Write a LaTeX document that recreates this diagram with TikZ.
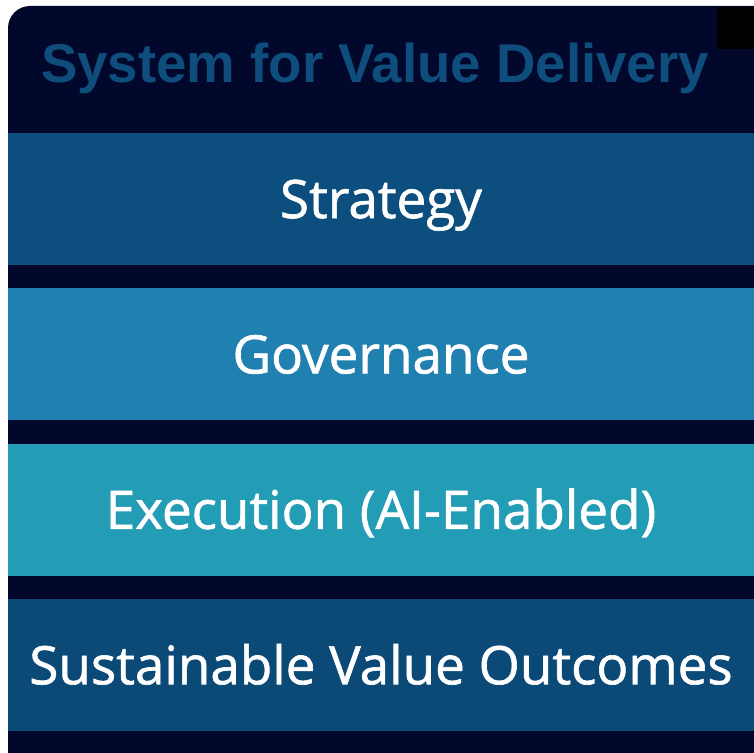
\documentclass[tikz,border=0pt]{standalone}
\usepackage{fontspec}
\setmainfont{Open Sans}[FakeBold=1.2]
\newfontfamily\titlefont{Liberation Sans}
\usetikzlibrary{positioning}

\definecolor{panelnavy}{RGB}{2,8,44}
\definecolor{titleblue}{RGB}{15,78,124}
\definecolor{strategyblue}{RGB}{12,78,126}
\definecolor{governanceblue}{RGB}{32,128,176}
\definecolor{executionblue}{RGB}{35,156,181}
\definecolor{outcomeblue}{RGB}{11,74,119}

\begin{document}
\begin{tikzpicture}[
    x=1pt, y=-1pt,
    node distance=23pt,
    band/.style={rectangle, minimum width=746pt, minimum height=132pt, inner sep=0pt,
        text=white, text height=38pt, text depth=0pt, font=\fontsize{53}{60}\selectfont},
    heading/.style={text=titleblue, inner sep=0pt, font=\titlefont\bfseries\fontsize{54.6}{60}\selectfont}
]

\useasboundingbox (0,0) rectangle (754,752);
\fill[white] (0,0) rectangle (754,752);
\begin{scope}
    \clip (0,0) rectangle (754,752);
    \fill[panelnavy, rounded corners=22pt] (8,6) rectangle (790,790);
\end{scope}
\fill[black] (717,7) rectangle (754,49);

\node[heading] (title) at (375,68) {System for Value Delivery};

\node[band, fill=strategyblue] (strategy) at (381,199) {Strategy};
\node[band, fill=governanceblue, below=of strategy] (governance) {Governance};
\node[band, fill=executionblue, below=of governance] (execution) {Execution (AI-Enabled)};
\node[band, fill=outcomeblue, below=of execution] (outcomes) {Sustainable Value Outcomes};

\end{tikzpicture}
\end{document}
